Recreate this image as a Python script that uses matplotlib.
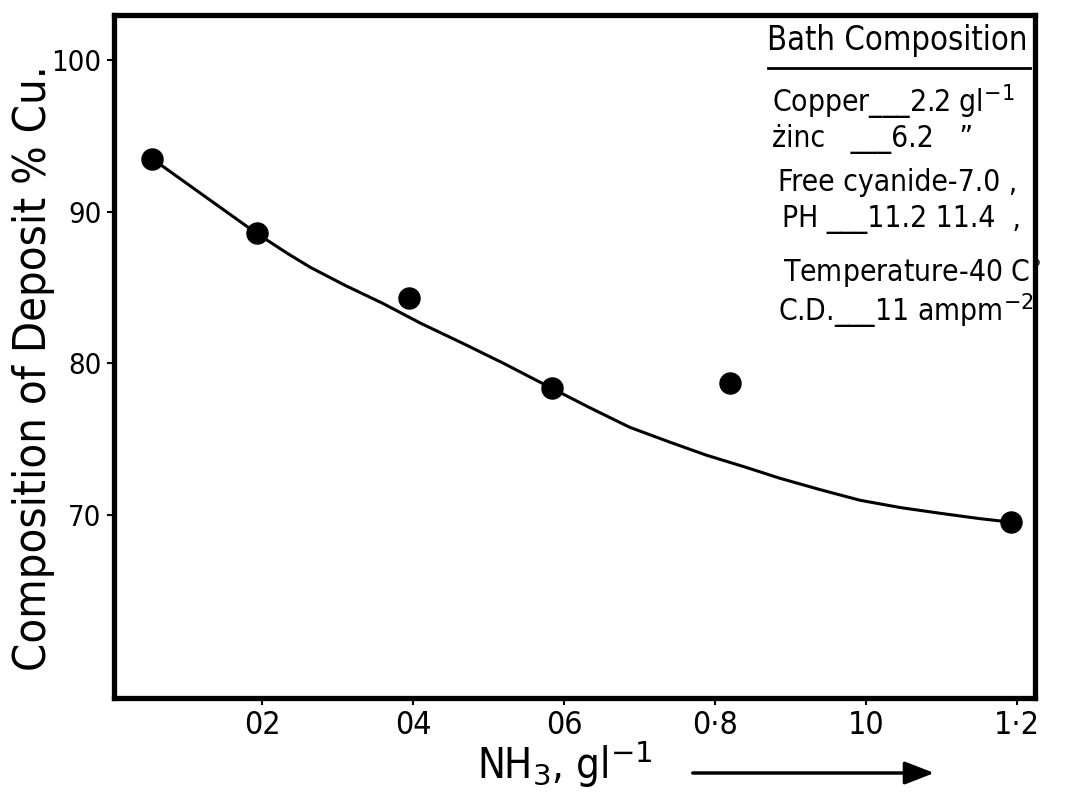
import matplotlib
matplotlib.use("Agg")
import matplotlib.pyplot as plt

# ---- data ----
nh3_points = [0.054, 0.193, 0.395, 0.584, 0.820, 1.192]
cu_points = [93.5, 88.6, 84.3, 78.35, 78.7, 69.5]

curve_x = [0.054, 0.125, 0.193, 0.234, 0.264, 0.310, 0.360, 0.410, 0.466, 0.520,
           0.584, 0.635, 0.687, 0.740, 0.789, 0.840, 0.886, 0.940, 0.992, 1.045,
           1.098, 1.150, 1.192]
curve_y = [93.53, 91.00, 88.58, 87.25, 86.34, 85.15, 83.96, 82.65, 81.32, 80.00,
           78.35, 77.05, 75.78, 74.80, 73.93, 73.15, 72.41, 71.65, 70.96, 70.48,
           70.10, 69.75, 69.51]

x_ticks = [0.2, 0.4, 0.6, 0.8, 1.0, 1.2]
x_tick_labels = ["02", "04", "06", "0·8", "10", "1·2"]
y_ticks = [70, 80, 90, 100]
y_tick_labels = ["70", "80", "90", "100"]

legend_title = "Bath Composition"
legend_lines = [
    "Copper___2.2 gl$^{-1}$",
    "żinc   ___6.2   \u201d",
    "Free cyanide-7.0 ,",
    "PH ___11.2 11.4  ,",
    "Temperature-40 C$^{\\circ}$",
    "C.D.___11 ampm$^{-2}$",
]

W, H = 1066, 799
fig = plt.figure(figsize=(W / 100, H / 100), dpi=100)
plt.rcParams['font.family'] = ['DejaVu Sans']

def fx(px):
    return px / W

def fy(py):
    return 1 - py / H

left, right, top, bottom = 114, 1035, 15, 698
ax = fig.add_axes([fx(left), fy(bottom), fx(right) - fx(left), fy(top) - fy(bottom)])

ax.plot(curve_x, curve_y, color="black", lw=2.2, zorder=2,
        solid_joinstyle='round')
ax.scatter(nh3_points, cu_points, s=230, color="black", zorder=3)

ax.set_xlim(0.004, 1.224)
ax.set_ylim(57.9, 103.0)

for s in ax.spines.values():
    s.set_linewidth(3.8)

ax.set_xticks(x_ticks)
ax.set_xticklabels(x_tick_labels, fontsize=23, fontstretch='condensed')
ax.set_yticks(y_ticks)
ax.set_yticklabels(y_tick_labels, fontsize=21, fontstretch='condensed')
ax.tick_params(axis='both', direction='out', length=5, width=1.5, pad=4)

# axis labels
fig.text(fx(34), fy(368), "Composition of Deposit % Cu.", rotation=90,
         fontsize=32.5, ha='center', va='center', fontstretch='condensed')
fig.text(fx(565), fy(765), "NH$_3$, gl$^{-1}$", fontsize=30,
         ha='center', va='center', fontstretch='condensed')

# arrow
fig.add_artist(matplotlib.patches.FancyArrowPatch(
    (fx(690), fy(773)), (fx(937), fy(773)), transform=fig.transFigure,
    arrowstyle='-|>,head_length=0.9,head_width=0.35', lw=2.5, color='black',
    mutation_scale=20))

# legend block
fig.text(fx(767), fy(50), legend_title, fontsize=23.5, ha='left', va='baseline',
         fontstretch='condensed')
fig.add_artist(matplotlib.lines.Line2D([fx(768), fx(1030)], [fy(68), fy(68)],
                                       transform=fig.transFigure, color='black', lw=2))
legend_y = [112, 147, 191, 227, 281, 321]
legend_x = [772, 772, 778, 782, 783, 778]
for t, xx, yy in zip(legend_lines, legend_x, legend_y):
    fig.text(fx(xx), fy(yy), t, fontsize=21.5, ha='left', va='baseline',
             fontstretch='condensed')

fig.savefig("out.png", dpi=100, facecolor='white')
